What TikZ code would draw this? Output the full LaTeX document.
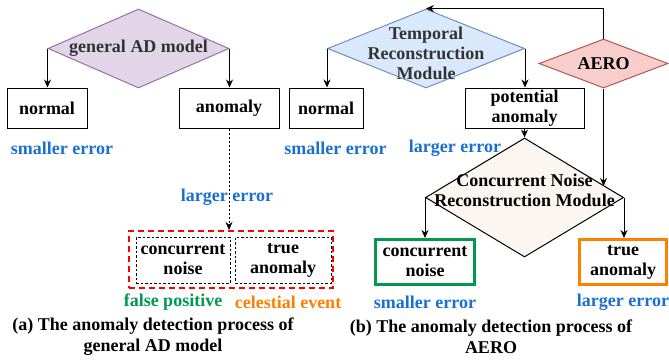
\documentclass[tikz,border=0pt]{standalone}
\usepackage{fontspec}
\setmainfont{Liberation Serif}
\usetikzlibrary{shapes.geometric}
\usetikzlibrary{arrows.meta}

\definecolor{purplefill}{HTML}{E1D5E7}
\definecolor{purpleline}{HTML}{9673A6}
\definecolor{bluefill}{HTML}{DAE8FC}
\definecolor{blueline}{HTML}{6C8EBF}
\definecolor{redfill}{HTML}{F8CECC}
\definecolor{redline}{HTML}{B85450}
\definecolor{noisefill}{HTML}{FCF6F2}
\definecolor{errorblue}{HTML}{1A6FD1}
\definecolor{falsegreen}{HTML}{00994D}
\definecolor{eventorange}{HTML}{FF8000}
\definecolor{modeltext}{HTML}{333333}

\begin{document}
\begin{tikzpicture}[x=1pt,y=-1pt,line width=1pt,font=\fontsize{18}{20}\selectfont\bfseries,
  rhombus/.style={diamond,draw,inner sep=0pt},
  result/.style={draw,rectangle,align=center,inner sep=0pt},
  errlabel/.style={text=errorblue},
  arrow/.style={-{Stealth[length=8pt,width=7pt]}}]

\useasboundingbox (0,0) rectangle (669,360);

\node [rhombus, fill=purplefill, draw=purpleline, minimum width=181pt, minimum height=79pt] (modelA) at (138.5,48.5) {};
\node [text=modeltext] (modelAtext) at (modelA) {general AD model};

\node [result, minimum width=80pt, minimum height=40pt] (normalA) at (47,108) {normal};
\node [result, minimum width=100pt, minimum height=40pt] (anomalyA) at (229,108) {anomaly};

\draw [arrow] (modelA.west) -- (modelA.west |- normalA.north);
\draw [arrow] (modelA.east) -- (modelA.east |- anomalyA.north);

\node [errlabel] (smallA) at (62,148) {smaller error};

\node [draw=red, line width=2pt, dash pattern=on 6pt off 4pt, minimum width=204pt, minimum height=57pt] (redbox) at (231,259.5) {};
\node [result, dash pattern=on 2.5pt off 2pt, minimum width=94pt, minimum height=46pt] (noiseA) at (183,260) {concurrent\\noise};
\node [result, dash pattern=on 2.5pt off 2pt, minimum width=96pt, minimum height=46pt] (trueA) at (283,260) {true\\anomaly};

\draw [arrow, dash pattern=on 2pt off 2pt] (anomalyA.south) -- (anomalyA.south |- redbox.north);
\node [errlabel] (largeA) at (227,197) {larger error};

\node [text=falsegreen] (falseA) at (173,302) {false positive};
\node [text=eventorange] (eventA) at (288,302) {celestial event};

\node [align=center, font=\fontsize{18}{21}\selectfont\bfseries] (captionA) at (153,336.5) {(a) The anomaly detection process of\\general AD model};

\node [rhombus, fill=bluefill, draw=blueline, minimum width=197pt, minimum height=79pt] (temporalB) at (426,48.5) {};
\node [align=center, text=modeltext] (temporalBtext) at (426,53) {Temporal\\Reconstruction\\Module};

\node [rhombus, fill=redfill, draw=redline, minimum width=129pt, minimum height=49pt] (aeroB) at (603.5,63.5) {};
\node (aeroBtext) at (aeroB) {AERO};

\node [result, minimum width=74pt, minimum height=40pt] (normalB) at (326,108) {normal};
\node [result, minimum width=119pt, minimum height=40pt] (potentialB) at (524.5,108) {potential\\anomaly};

\draw [arrow] (temporalB.west) -- (temporalB.west |- normalB.north);
\draw [arrow] (temporalB.east) -- (temporalB.east |- potentialB.north);
\draw [arrow] (aeroB.north) |- (temporalB.north);

\node [errlabel] (smallB) at (335.5,148) {smaller error};
\node [errlabel] (largeB) at (455,148) {larger error};

\node [rhombus, fill=noisefill, minimum width=198pt, minimum height=119pt] (noiseB) at (524.5,197.5) {};
\node [align=center] (noiseBtext) at (524.5,190.5) {Concurrent Noise\\Reconstruction Module};
\coordinate (aerohit) at (603.5,186);

\draw [arrow] (potentialB.south) -- (noiseB.north);
\draw [arrow] (aeroB.south) -- (aerohit);

\node [result, draw=falsegreen, line width=3pt, minimum width=99pt, minimum height=45pt] (concurrentB) at (425,262) {concurrent\\noise};
\node [result, draw=eventorange, line width=3pt, minimum width=87pt, minimum height=45pt] (trueB) at (623,262) {true\\anomaly};

\draw [arrow] (noiseB.west) -- (noiseB.west |- concurrentB.north);
\draw [arrow] (noiseB.east) -- (noiseB.east |- trueB.north);

\node [errlabel] (smallC) at (425,302) {smaller error};
\node [errlabel] (largeC) at (623,302) {larger error};

\node [align=center, font=\fontsize{18}{21}\selectfont\bfseries] (captionB) at (491,337) {(b) The anomaly detection process of\\AERO};

\end{tikzpicture}
\end{document}
